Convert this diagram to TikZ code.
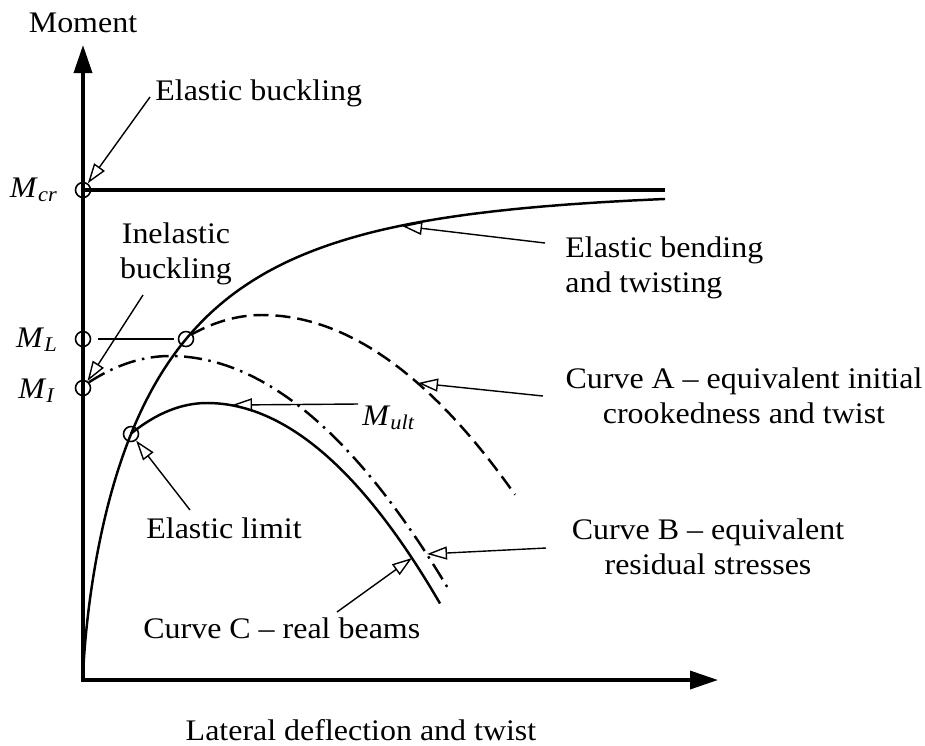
\documentclass[tikz,border=0pt]{standalone}
\usepackage{fontspec}
\setmainfont{Liberation Serif}[FakeStretch=1.07]
\usetikzlibrary{arrows.meta}

\begin{document}
\begin{tikzpicture}[x=0.02cm,y=-0.02cm,
  font=\fontsize{17}{20}\selectfont,
  txt/.style={inner sep=0pt},
  axis/.style={line width=2pt,{Triangle[length=0.56cm,width=0.36cm]}-{Triangle[length=0.56cm,width=0.36cm]}},
  curve/.style={line width=1.4pt},
  leader/.style={line width=0.8pt,-{Triangle[open,length=0.4cm,width=0.26cm]}},
  ring/.style={circle,draw,line width=0.9pt,minimum size=0.3cm,inner sep=0pt}]
%\draw[step=50,gray,very thin] (0,0) grid (925,745); %background grid
\useasboundingbox (0,0) rectangle (925,745);

\coordinate (o) at (83,680);
\coordinate (ytop) at (83,45);
\coordinate (xend) at (718,680);
\draw[axis] (ytop) -- (o) -- (xend);

\node[ring] (mcr) at (83,190) {};
\node[ring] (ml) at (83,339) {};
\node[ring] (mi) at (83,388) {};
\node[ring] (yl) at (186,339) {};
\node[ring] (el) at (131,434) {};

\coordinate (mcrend) at (665,190);
\draw[line width=1.8pt] (mcr.center) -- (mcrend);
\draw[line width=0.8pt,shorten <=4pt,shorten >=2pt] (ml) -- (yl);

% elastic bending and twisting
\draw[curve] plot[domain=0.05:24.125,samples=150] ({83+\x*\x},{190+490*exp(-0.0464*\x^1.4)});
% curve A
\draw[curve,dash pattern=on 0.3cm off 0.14cm]
  plot[domain=191:262,samples=30] (\x,{315+0.0039*(\x-262)*(\x-262)})
  -- plot[domain=262:515,samples=60] (\x,{315+0.0028*(\x-262)*(\x-262)});
% curve B
\draw[curve,dash pattern=on 0.36cm off 0.13cm on 0.05cm off 0.13cm]
  plot[domain=89:170,samples=30] (\x,{356+0.004*(\x-170)*(\x-170)})
  -- plot[domain=170:449,samples=60] (\x,{356+0.003*(\x-170)*(\x-170)});
% curve C
\draw[curve]
  plot[domain=131:207,samples=30] (\x,{403+0.0053*(\x-207)*(\x-207)})
  -- plot[domain=207:440,samples=60] (\x,{403+0.0037*(\x-207)*(\x-207)});

\node[txt,anchor=base] (moment) at (83,32) {Moment};
\node[txt,anchor=base west] (ebuck) at (155,100) {Elastic buckling};
\node[txt,anchor=base east] (mcrlab) at (58,197) {\textit{M}\textsubscript{\textit{cr}}};
\node[txt,anchor=base east] (mllab) at (58,347) {\textit{M}\textsubscript{\textit{L}}};
\node[txt,anchor=base east] (milab) at (56,398) {\textit{M}\textsubscript{\textit{I}}};
\node[txt,anchor=north,align=center] (ibuck) at (176,222) {Inelastic\\buckling};
\node[txt,anchor=north west,align=left] (ebend) at (565,236) {Elastic bending\\and twisting};
\node[txt,anchor=north,align=center] (cA) at (744,367) {Curve A -- equivalent initial\\crookedness and twist};
\node[txt,anchor=base west] (mult) at (362,425) {\textit{M}\textsubscript{\textit{ult}}};
\node[txt,anchor=base west] (elim) at (146,538) {Elastic limit};
\node[txt,anchor=north,align=center] (cB) at (708,518) {Curve B -- equivalent\\residual stresses};
\node[txt,anchor=base west] (cC) at (143,638) {Curve C -- real beams};
\node[txt,anchor=base] (xlab) at (361,740) {Lateral deflection and twist};

\coordinate (eb0) at (150,97);
\coordinate (ib0) at (143,295);
\coordinate (el0) at (190,510);
\coordinate (ebt0) at (545,243);
\coordinate (ebt) at (402,226);
\coordinate (ca0) at (543,396);
\coordinate (ca) at (418,383);
\coordinate (mu0) at (358,404);
\coordinate (mu) at (232,405);
\coordinate (cb0) at (546,548);
\coordinate (cb) at (427,554);
\coordinate (cc0) at (337,612);
\coordinate (cc) at (412,558);

\draw[leader] (eb0) -- (mcr);
\draw[leader] (ib0) -- (mi);
\draw[leader] (el0) -- (el);
\draw[leader] (ebt0) -- (ebt);
\draw[leader] (ca0) -- (ca);
\draw[leader] (mu0) -- (mu);
\draw[leader] (cb0) -- (cb);
\draw[leader] (cc0) -- (cc);

\end{tikzpicture}
\end{document}
